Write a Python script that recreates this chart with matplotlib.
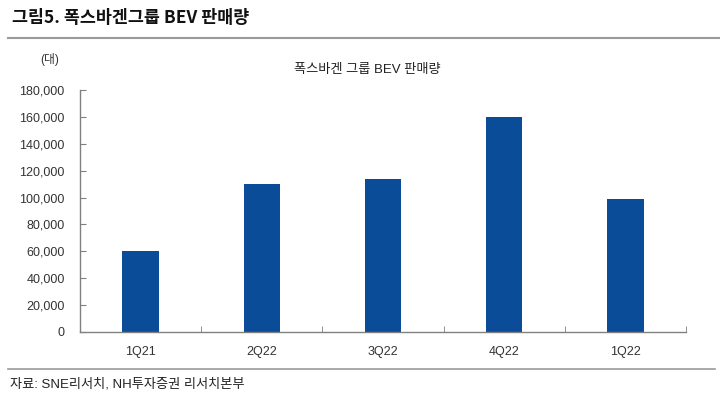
import matplotlib
matplotlib.use("Agg")
import matplotlib.pyplot as plt
from matplotlib.lines import Line2D
from matplotlib.ticker import FuncFormatter, FixedLocator
import numpy as np

quarters = ["1Q21", "2Q22", "3Q22", "4Q22", "1Q22"]
bev_sales = [60000, 110000, 113500, 160000, 99000]
y_ticks = [0, 20000, 40000, 60000, 80000, 100000, 120000, 140000, 160000, 180000]

FONTS = ["Liberation Sans", "Noto Sans CJK KR"]
plt.rcParams["font.family"] = FONTS

BAR = "#0B4C98"
GREY = "#808080"


def main():
    fig = plt.figure(figsize=(7.2, 3.98), dpi=100)
    ax = fig.add_axes([80 / 720, 1 - 332 / 398, (686 - 80) / 720, (332 - 90) / 398])

    x = np.arange(len(quarters))
    ax.bar(x, bev_sales, width=0.30, color=BAR, zorder=2)

    ax.set_xlim(-0.5, len(quarters) - 0.5)
    ax.set_ylim(0, 180000)
    ax.set_yticks(y_ticks)
    ax.yaxis.set_major_formatter(FuncFormatter(lambda v, _: f"{int(v):,}"))
    ax.set_xticks(x)
    ax.set_xticklabels(quarters)
    ax.xaxis.set_minor_locator(FixedLocator(np.arange(-0.5, len(quarters), 1.0)))
    ax.tick_params(axis="x", which="major", length=0, pad=10, labelsize=9, colors="#333333")
    ax.tick_params(axis="x", which="minor", direction="in", length=4, color=GREY)
    ax.tick_params(axis="y", direction="in", length=4, color=GREY, pad=11,
                   labelsize=9, labelcolor="#333333")

    for side in ("top", "right"):
        ax.spines[side].set_visible(False)
    for side in ("left", "bottom"):
        ax.spines[side].set_color(GREY)
        ax.spines[side].set_linewidth(1.0)

    fig.text(12 / 720, 1 - 18 / 398, "그림5. 폭스바겐그룹 BEV 판매량", fontsize=12.5,
             fontweight="bold", family=["Noto Sans CJK KR"], va="center", ha="left",
             color="#111111")
    fig.add_artist(Line2D([8 / 720, 1.0], [1 - 38 / 398] * 2, color="#9a9a9a", lw=1.5))

    fig.text(367 / 720, 1 - 70 / 398, "폭스바겐 그룹 BEV 판매량", fontsize=9.5,
             ha="center", va="center", color="#222222")
    fig.text(50 / 720, 1 - 60 / 398, "(대)", fontsize=8.5, ha="center", va="center",
             color="#333333")

    fig.add_artist(Line2D([8 / 720, 715 / 720], [1 - 369 / 398] * 2, color="#9a9a9a", lw=1.2))
    fig.text(10 / 720, 1 - 384 / 398, "자료: SNE리서치, NH투자증권 리서치본부", fontsize=9.5,
             ha="left", va="center", color="#222222")

    fig.savefig("out.png", dpi=100)


if __name__ == "__main__":
    main()
